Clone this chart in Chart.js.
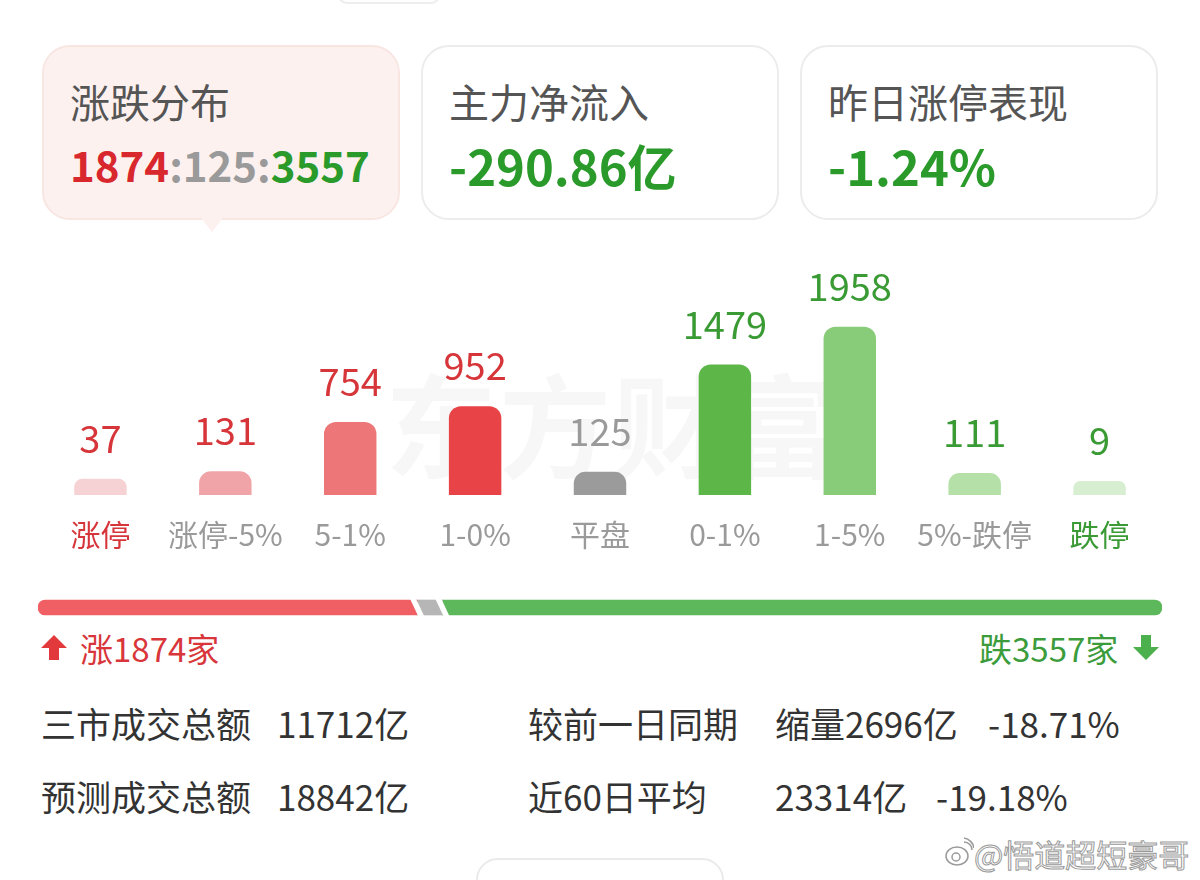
<!DOCTYPE html>
<html>
<head>
<meta charset="utf-8">
<script src="https://cdn.jsdelivr.net/npm/chart.js@4.4.1/dist/chart.umd.min.js"></script>
<style>
  html, body { margin: 0; padding: 0; background: #fff; }
  body { width: 1200px; height: 880px; position: relative; overflow: hidden;
         font-family: "Noto Sans CJK SC", "Noto Sans", sans-serif; }
  .card { position: absolute; top: 45px; width: 354px; height: 171px; border: 2px solid #ececec;
          border-radius: 28px; background: #fff; box-sizing: content-box; }
  .card.active { background: #fdf1ef; border-color: #f8e6e2; }
  .card .title { position: absolute; left: 26px; top: 54px; font-size: 40px; color: #555;
                 line-height: 1; transform: translateY(-50%); }
  .card .val { position: absolute; left: 26px; top: 117px; font-weight: 700; line-height: 1;
               transform: translateY(-50%); white-space: nowrap; }
  .tip { position: absolute; left: 198px; top: 214px; width: 0; height: 0;
         border-left: 14px solid transparent; border-right: 14px solid transparent;
         border-top: 18px solid #fdf1ef; }
  .red { color: #d8272d; } .grey { color: #9a9a9a; } .green { color: #2a9a2a; }
  .lgreen { color: #45a545; }
  .row { position: absolute; font-size: 35px; color: #333; line-height: 1; white-space: nowrap;
         transform: translateY(-50%); }
  #barBox { position: absolute; left: 38px; top: 250px; width: 1124px; height: 325px; }
  #ratioBox { position: absolute; left: 38px; top: 596px; width: 1124px; height: 23px; }
  .mark { position: absolute; left: 385px; top: 365px; font-size: 112px; font-weight: 700;
          color: rgba(0,0,0,0.03); letter-spacing: 2px; line-height: 1; white-space: nowrap; }
  .wm { position: absolute; left: 974px; top: 853px; font-size: 31px; line-height: 1; color: #fff;
        -webkit-text-stroke: 1px #9a9a9a; transform: translateY(-50%); white-space: nowrap; }
</style>
</head>
<body>

<div style="position:absolute;left:336px;top:-22px;width:102px;height:22px;border:2px solid #eee;border-radius:12px;"></div>

<div class="card active" style="left:42px;">
  <div class="title">涨跌分布</div>
  <div class="val" style="font-size:42px;"><span class="red">1874</span><span class="grey">:125:</span><span class="green">3557</span></div>
</div>
<div class="tip"></div>
<div class="card" style="left:421px;">
  <div class="title">主力净流入</div>
  <div class="val green" style="font-size:49px;">-290.86亿</div>
</div>
<div class="card" style="left:800px;">
  <div class="title">昨日涨停表现</div>
  <div class="val green" style="font-size:49px;">-1.24%</div>
</div>

<div class="mark">东方财富</div>
<div id="barBox"><canvas id="distChart"></canvas></div>
<div id="ratioBox"><canvas id="ratioChart"></canvas></div>

<svg style="position:absolute;left:40px;top:634px;" width="28" height="27" viewBox="0 0 28 27">
  <path d="M14 1 L27 14 L19 14 L19 26 L9 26 L9 14 L1 14 Z" fill="#e23a3c"/>
</svg>
<div class="row" style="left:80px;top:648px;font-size:33px;color:#d8363a;">涨1874家</div>
<div class="row" style="left:979px;top:648px;font-size:33px;color:#3c9c3c;">跌3557家</div>
<svg style="position:absolute;left:1132px;top:634px;" width="28" height="27" viewBox="0 0 28 27">
  <path d="M14 26 L27 13 L19 13 L19 1 L9 1 L9 13 L1 13 Z" fill="#4cb04c"/>
</svg>

<div class="row" style="left:41px;top:722px;">三市成交总额</div>
<div class="row" style="left:277px;top:722px;">11712亿</div>
<div class="row" style="left:528px;top:722px;">较前一日同期</div>
<div class="row lgreen" style="left:775px;top:722px;">缩量2696亿</div>
<div class="row lgreen" style="left:988px;top:722px;">-18.71%</div>

<div class="row" style="left:41px;top:795px;">预测成交总额</div>
<div class="row" style="left:277px;top:795px;">18842亿</div>
<div class="row" style="left:528px;top:795px;">近60日平均</div>
<div class="row" style="left:775px;top:795px;">23314亿</div>
<div class="row lgreen" style="left:936px;top:795px;">-19.18%</div>

<div style="position:absolute;left:476px;top:858px;width:244px;height:60px;border:2px solid #eaeaea;border-radius:22px;"></div>
<svg style="position:absolute;left:944px;top:836px;" width="30" height="32" viewBox="0 0 30 32">
  <ellipse cx="13" cy="20" rx="11" ry="9" fill="#fff" stroke="#9a9a9a" stroke-width="1.5"/>
  <circle cx="12" cy="21" r="4" fill="none" stroke="#9a9a9a" stroke-width="1.5"/>
  <path d="M20 6 A8 8 0 0 1 28 14" fill="none" stroke="#9a9a9a" stroke-width="1.5"/>
  <path d="M20 2 A12 12 0 0 1 30 12" fill="none" stroke="#9a9a9a" stroke-width="1.5"/>
</svg>
<div class="wm">@悟道超短豪哥</div>

<script>
// counts per change bucket
const categories = ['涨停', '涨停-5%', '5-1%', '1-0%', '平盘', '0-1%', '1-5%', '5%-跌停', '跌停'];
const counts = [37, 131, 754, 952, 125, 1479, 1958, 111, 9];
const barColors = ['#f7d2d4', '#f1a4a8', '#ed7678', '#e84346', '#9b9b9b', '#5cb748', '#88cb78', '#b5e1a9', '#d7eed0'];
const valueColors = ['#d6353a', '#d6353a', '#d6353a', '#d6353a', '#9a9a9a', '#3a9a34', '#3a9a34', '#3a9a34', '#3a9a34'];
const tickColors = ['#d6353a', '#9a9a9a', '#9a9a9a', '#9a9a9a', '#9a9a9a', '#9a9a9a', '#9a9a9a', '#9a9a9a', '#3a9a34'];

// up : flat : down
const ratioLabels = ['涨', '平', '跌'];
const ratioCounts = [1874, 125, 3557];
const ratioColors = ['#ef5f64', '#b6b6b6', '#5cb85a'];

// the app draws a small stub even for tiny buckets, so the bars start below zero
const STUB = -168;
const Y_MAX = 2926;

const FONT = '"Noto Sans CJK SC", "Noto Sans", sans-serif';

var valueLabels = {
    id: 'valueLabels',
    afterDatasetsDraw(chart) {
        var ctx = chart.ctx;
        var meta = chart.getDatasetMeta(0);
        ctx.save();
        ctx.font = '38px ' + FONT;
        ctx.textAlign = 'center';
        ctx.textBaseline = 'alphabetic';
        meta.data.forEach(function (bar, i) {
            ctx.fillStyle = valueColors[i];
            ctx.fillText(String(counts[i]), bar.x, bar.y - 26);
        });
        ctx.restore();
    }
};

var ctx1 = document.getElementById('distChart').getContext('2d');
var distChart = new Chart(ctx1, {
    type: 'bar',
    data: {
        labels: categories,
        datasets: [{
            data: counts,
            base: STUB,
            backgroundColor: barColors,
            borderRadius: 12,
            borderSkipped: 'start',
            barPercentage: 0.42,
            categoryPercentage: 1
        }]
    },
    options: {
        responsive: true,
        maintainAspectRatio: false,
        animation: false,
        devicePixelRatio: 1,
        layout: { padding: 0 },
        plugins: { legend: { display: false }, tooltip: { enabled: false } },
        scales: {
            x: {
                grid: { display: false, drawTicks: false },
                border: { display: false },
                ticks: {
                    padding: 22,
                    color: tickColors,
                    font: { family: FONT, size: 30 },
                    maxRotation: 0,
                    autoSkip: false
                }
            },
            y: { display: false, min: STUB, max: Y_MAX }
        }
    },
    plugins: [valueLabels]
});

// white slanted cuts between the segments of the ratio bar
var slantCuts = {
    id: 'slantCuts',
    afterDatasetsDraw(chart) {
        var ctx = chart.ctx;
        var xs = chart.scales.x;
        var bar = chart.getDatasetMeta(0).data[0];
        var top = bar.y - bar.height / 2 - 1;
        var bottom = bar.y + bar.height / 2 + 1;
        var run = 0;
        ctx.save();
        ctx.fillStyle = '#fff';
        for (var i = 0; i < ratioCounts.length - 1; i++) {
            run += ratioCounts[i];
            var px = xs.getPixelForValue(run);
            ctx.beginPath();
            ctx.moveTo(px - 7, top);
            ctx.lineTo(px - 1, top);
            ctx.lineTo(px + 7, bottom);
            ctx.lineTo(px + 1, bottom);
            ctx.closePath();
            ctx.fill();
        }
        ctx.restore();
    }
};

var total = ratioCounts.reduce(function (a, b) { return a + b; }, 0);
var ctx2 = document.getElementById('ratioChart').getContext('2d');
var ratioChart = new Chart(ctx2, {
    type: 'bar',
    data: {
        labels: [''],
        datasets: ratioCounts.map(function (v, i) {
            return {
                label: ratioLabels[i],
                data: [v],
                backgroundColor: ratioColors[i],
                borderSkipped: false,
                borderRadius: i === 0 ? { topLeft: 8, bottomLeft: 8 }
                    : (i === ratioCounts.length - 1 ? { topRight: 8, bottomRight: 8 } : 0),
                barThickness: 15
            };
        })
    },
    options: {
        indexAxis: 'y',
        responsive: true,
        maintainAspectRatio: false,
        animation: false,
        devicePixelRatio: 1,
        layout: { padding: 0 },
        plugins: { legend: { display: false }, tooltip: { enabled: false } },
        scales: {
            x: { display: false, stacked: true, min: 0, max: total },
            y: { display: false, stacked: true }
        }
    },
    plugins: [slantCuts]
});
</script>
</body>
</html>
